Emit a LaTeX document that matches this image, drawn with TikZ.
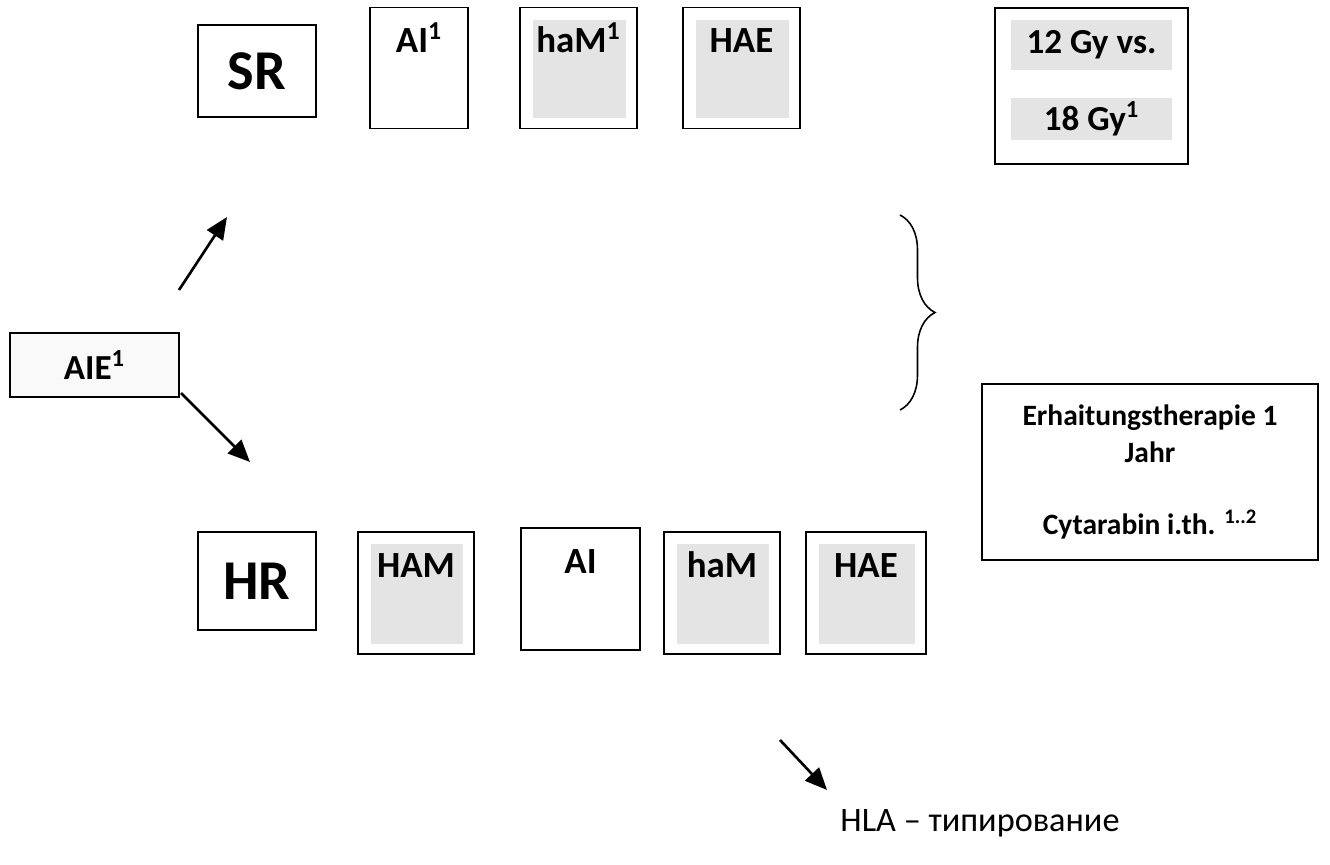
\documentclass[tikz,border=0pt]{standalone}
\usepackage{fontspec}
\setmainfont{Carlito}
\usetikzlibrary{arrows.meta,decorations.pathreplacing}
\definecolor{boxgray}{RGB}{228,228,228}
\tikzset{
  box/.style={draw, line width=1.1pt, inner sep=0pt, minimum width=2.34cm, minimum height=2.42cm},
  greybox/.style={box, path picture={\fill[boxgray]
      ([xshift=0.26cm,yshift=-0.24cm]path picture bounding box.north west) rectangle
      ([xshift=-0.22cm,yshift=0.2cm]path picture bounding box.south east);}},
  risk/.style={draw, line width=1.1pt, inner sep=0pt, minimum width=2.36cm,
               font=\fontsize{32}{36}\selectfont\bfseries},
  toplab/.style={anchor=base, inner sep=0pt, yshift=-0.92cm, font=\fontsize{21}{25}\selectfont\bfseries},
  gylab/.style={fill=boxgray, inner sep=0pt, minimum width=3.22cm, font=\fontsize{20}{24}\selectfont\bfseries},
  arr/.style={line width=1.5pt, -{Triangle[length=0.44cm, width=0.38cm]}},
}
\begin{document}
\begin{tikzpicture}[x=0.02cm, y=-0.02cm]
  \useasboundingbox (0,0) rectangle (1330,865);

  % induction
  \node[draw, line width=1.1pt, minimum width=3.38cm, minimum height=1.28cm, inner sep=0pt,
        fill=gray!5, font=\fontsize{20}{24}\selectfont\bfseries] (aie) at (94.5,365) {AIE\textsuperscript{1}};
  \coordinate (up0) at (179,290);
  \coordinate (up1) at (227,217);
  \coordinate (dn0) at (181,393);
  \coordinate (dn1) at (250,462);
  \draw[arr] (up0) -- (up1);
  \draw[arr] (dn0) -- (dn1);

  % standard risk
  \node[risk, minimum height=1.84cm] (sr) at (257,71) {SR};
  \node[box, minimum width=1.96cm, label={[toplab]north:AI\textsuperscript{1}}] (sai) at (419,68) {};
  \node[greybox, label={[toplab]north:haM\textsuperscript{1}}] (sham) at (578.5,68) {};
  \node[greybox, label={[toplab]north:HAE}] (shae) at (741.5,68) {};

  % cranial irradiation
  \node[draw, line width=1.1pt, minimum width=3.86cm, minimum height=3.12cm] (rt) at (1091.5,86) {};
  \node[gylab, minimum height=1.02cm] (gy12) at (1091.5,45) {12 Gy vs.};
  \node[gylab, minimum height=0.84cm] (gy18) at (1091.5,119) {18 Gy\textsuperscript{1}};

  % high risk
  \node[risk, minimum height=1.96cm] (hr) at (257,581) {HR};
  \node[greybox, minimum width=2.32cm, minimum height=2.44cm, label={[toplab]north:HAM}] (hham) at (416,593) {};
  \node[box, minimum width=2.38cm, minimum height=2.44cm, label={[toplab]north:AI}] (hai) at (580.5,589) {};
  \node[greybox, minimum width=2.32cm, minimum height=2.44cm, label={[toplab]north:haM}] (hhm) at (722,593) {};
  \node[greybox, minimum width=2.4cm, minimum height=2.44cm, label={[toplab]north:HAE}] (hhae) at (866,593) {};

  \draw[line width=0.9pt, decorate, decoration={brace, amplitude=0.7cm}]
    (900,215) -- (900,410);

  % maintenance
  \node[draw, line width=1.1pt, minimum width=6.72cm, minimum height=3.52cm, align=center,
        font=\fontsize{16.8}{21}\selectfont\bfseries] (maint) at (1150,472)
    {Erhaitungstherapie 1\\ Jahr\\[20pt] Cytarabin i.th. \textsuperscript{1..2}};

  \coordinate (hla0) at (780,740);
  \coordinate (hla1) at (827,790);
  \draw[arr] (hla0) -- (hla1);
  \node[font=\fontsize{19.5}{23}\selectfont] (hla) at (980,823) {HLA – типирование};
\end{tikzpicture}
\end{document}
